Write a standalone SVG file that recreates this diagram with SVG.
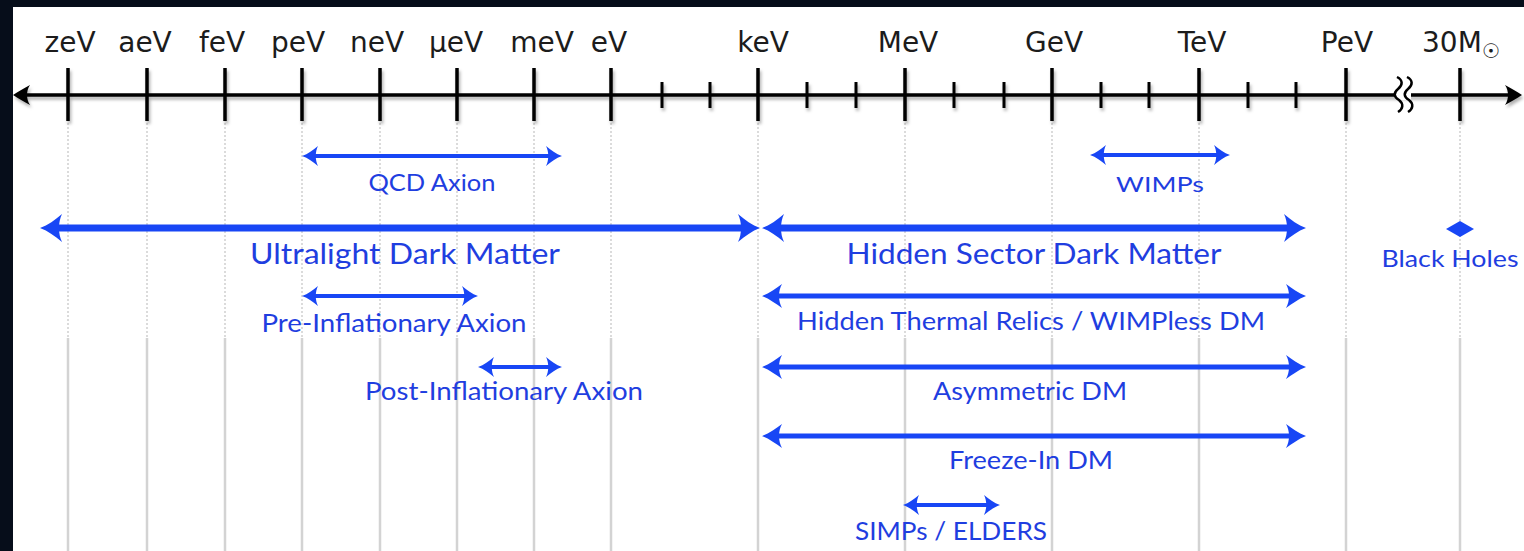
<svg xmlns="http://www.w3.org/2000/svg" width="1524" height="551" viewBox="0 0 1524 551">
<style>
.ax{font-family:"DejaVu Sans","Liberation Sans",sans-serif;font-size:28px;fill:#1c1c1c;text-anchor:middle}
.lb{font-family:Lato,"Liberation Sans",sans-serif;fill:#1f3ee0;text-anchor:middle}
.tk{stroke:#000;stroke-width:3.5}
.mt{stroke:#000;stroke-width:3}
.gd{stroke:#c4c4c4;stroke-width:1.2;stroke-dasharray:2 2}
.gs{stroke:#d3d3d3;stroke-width:2.5}
.big{stroke:#1846f5;stroke-width:7;fill:none;marker-start:url(#hb);marker-end:url(#hb)}
.med{stroke:#1846f5;stroke-width:5;fill:none;marker-start:url(#hm);marker-end:url(#hm)}
.sml{stroke:#1846f5;stroke-width:4;fill:none;marker-start:url(#hs);marker-end:url(#hs)}
</style>
<defs>
<marker id="hb" markerUnits="userSpaceOnUse" orient="auto-start-reverse" markerWidth="40" markerHeight="40" refX="0" refY="0" viewBox="-20 -20 40 40" overflow="visible">
<path d="M12,0 C4,-3 -3,-8 -10,-14 C-6,-6 -6,6 -10,14 C-3,8 4,3 12,0 Z" fill="#1846f5"/>
</marker>
<marker id="hm" markerUnits="userSpaceOnUse" orient="auto-start-reverse" markerWidth="40" markerHeight="40" refX="0" refY="0" viewBox="-20 -20 40 40" overflow="visible">
<path d="M11,0 C3,-3 -3,-8 -9,-12 C-5,-5 -5,5 -9,12 C-3,8 3,3 11,0 Z" fill="#1846f5"/>
</marker>
<marker id="hs" markerUnits="userSpaceOnUse" orient="auto-start-reverse" markerWidth="40" markerHeight="40" refX="0" refY="0" viewBox="-20 -20 40 40" overflow="visible">
<path d="M9,0 C3,-2 -2,-6 -7,-10 C-4,-4 -4,4 -7,10 C-2,6 3,2 9,0 Z" fill="#1846f5"/>
</marker>
<filter id="sh" x="-5%" y="-50%" width="110%" height="200%">
<feDropShadow dx="1.5" dy="3" stdDeviation="1.5" flood-color="#000" flood-opacity="0.3"/>
</filter>
<path id="sq" d="M0,0 C6,3 6,8 1,12 C-4,16 -3,20 2,23 C7,27 6,32 1,35" fill="none" stroke="#000" stroke-width="2.5"/>
</defs>
<rect x="0" y="0" width="1524" height="551" fill="#ffffff"/>
<rect x="0" y="0" width="1524" height="7" fill="#060d1a"/>
<rect x="0" y="0" width="13" height="551" fill="#060d1a"/>

<g id="grid">
<g class="gd">
<line x1="68" y1="123" x2="68" y2="338"/><line x1="147" y1="123" x2="147" y2="338"/><line x1="225" y1="123" x2="225" y2="338"/><line x1="302" y1="123" x2="302" y2="338"/><line x1="380" y1="123" x2="380" y2="338"/><line x1="457" y1="123" x2="457" y2="338"/><line x1="534" y1="123" x2="534" y2="338"/><line x1="611" y1="123" x2="611" y2="338"/><line x1="758" y1="123" x2="758" y2="338"/><line x1="905" y1="123" x2="905" y2="338"/><line x1="1052" y1="123" x2="1052" y2="338"/><line x1="1199" y1="123" x2="1199" y2="338"/><line x1="1346" y1="123" x2="1346" y2="338"/><line x1="1460" y1="123" x2="1460" y2="338"/>
</g>
<g class="gs">
<line x1="68" y1="338" x2="68" y2="551"/><line x1="147" y1="338" x2="147" y2="551"/><line x1="225" y1="338" x2="225" y2="551"/><line x1="302" y1="338" x2="302" y2="551"/><line x1="380" y1="338" x2="380" y2="551"/><line x1="457" y1="338" x2="457" y2="551"/><line x1="534" y1="338" x2="534" y2="551"/><line x1="611" y1="338" x2="611" y2="551"/><line x1="758" y1="338" x2="758" y2="551"/><line x1="905" y1="338" x2="905" y2="551"/><line x1="1052" y1="338" x2="1052" y2="551"/><line x1="1199" y1="338" x2="1199" y2="551"/><line x1="1346" y1="338" x2="1346" y2="551"/><line x1="1460" y1="338" x2="1460" y2="551"/>
</g>
</g>

<g id="axis">
<g filter="url(#sh)">
<line x1="24" y1="95" x2="1512" y2="95" stroke="#000" stroke-width="3.5"/>
<path d="M13,95 C18,92 24,88 30,85 C26,91 26,99 30,105 C24,102 18,98 13,95 Z" fill="#000"/>
<path d="M1522,95 C1517,92 1511,88 1505,85 C1509,91 1509,99 1505,105 C1511,102 1517,98 1522,95 Z" fill="#000"/>
<g class="tk">
<line x1="68" y1="68" x2="68" y2="121"/><line x1="147" y1="68" x2="147" y2="121"/><line x1="225" y1="68" x2="225" y2="121"/><line x1="302" y1="68" x2="302" y2="121"/><line x1="380" y1="68" x2="380" y2="121"/><line x1="457" y1="68" x2="457" y2="121"/><line x1="534" y1="68" x2="534" y2="121"/><line x1="611" y1="68" x2="611" y2="121"/><line x1="758" y1="68" x2="758" y2="121"/><line x1="905" y1="68" x2="905" y2="121"/><line x1="1052" y1="68" x2="1052" y2="121"/><line x1="1199" y1="68" x2="1199" y2="121"/><line x1="1346" y1="68" x2="1346" y2="121"/><line x1="1460" y1="68" x2="1460" y2="121"/>
</g>
<g class="mt">
<line x1="662" y1="82" x2="662" y2="108"/><line x1="710" y1="82" x2="710" y2="108"/><line x1="807" y1="82" x2="807" y2="108"/><line x1="856" y1="82" x2="856" y2="108"/><line x1="954" y1="82" x2="954" y2="108"/><line x1="1004" y1="82" x2="1004" y2="108"/><line x1="1101" y1="82" x2="1101" y2="108"/><line x1="1149" y1="82" x2="1149" y2="108"/><line x1="1248" y1="82" x2="1248" y2="108"/><line x1="1296" y1="82" x2="1296" y2="108"/>
</g>
</g>
<rect x="1396" y="90" width="15" height="10" fill="#fff"/>
<use href="#sq" x="1397" y="77"/>
<use href="#sq" x="1407" y="77"/>
<text class="ax" x="70" y="52">zeV</text>
<text class="ax" x="145" y="52">aeV</text>
<text class="ax" x="222" y="52">feV</text>
<text class="ax" x="298" y="52">peV</text>
<text class="ax" x="377" y="52">neV</text>
<text class="ax" x="456" y="52">μeV</text>
<text class="ax" x="542" y="52">meV</text>
<text class="ax" x="609" y="52">eV</text>
<text class="ax" x="763" y="52">keV</text>
<text class="ax" x="908" y="52">MeV</text>
<text class="ax" x="1054" y="52">GeV</text>
<text class="ax" x="1202" y="52">TeV</text>
<text class="ax" x="1347" y="52">PeV</text>
<text class="ax" x="1422" y="52" style="text-anchor:start">30M<tspan font-size="20" dy="6">☉</tspan></text>
</g>

<g id="connectors">
<line class="sml" x1="311" y1="156" x2="553" y2="156"/>
<line class="sml" x1="1099" y1="155" x2="1221" y2="155"/>
<line class="big" x1="52" y1="228" x2="748" y2="228"/>
<line class="big" x1="774" y1="228" x2="1294" y2="228"/>
<line class="sml" x1="311" y1="296" x2="469" y2="296"/>
<line class="med" x1="773" y1="296" x2="1295" y2="296"/>
<line class="sml" x1="487" y1="367" x2="553" y2="367"/>
<line class="med" x1="773" y1="367" x2="1295" y2="367"/>
<line class="med" x1="773" y1="436" x2="1295" y2="436"/>
<line class="sml" x1="912" y1="505" x2="991" y2="505"/>
</g>

<g id="qcd-axion"><text class="lb" x="432" y="191" font-size="23" textLength="127" lengthAdjust="spacingAndGlyphs">QCD Axion</text></g>
<g id="wimps"><text class="lb" x="1160" y="192" font-size="22" textLength="88" lengthAdjust="spacingAndGlyphs">WIMPs</text></g>
<g id="ultralight"><text class="lb" x="405" y="264" font-size="29" textLength="310" lengthAdjust="spacingAndGlyphs">Ultralight Dark Matter</text></g>
<g id="hidden-sector"><text class="lb" x="1034" y="264" font-size="29" textLength="375" lengthAdjust="spacingAndGlyphs">Hidden Sector Dark Matter</text></g>
<g id="black-holes">
<path d="M1446,229 L1460,221 L1474,229 L1460,237 Z" fill="#1846f5"/>
<text class="lb" x="1450" y="267" font-size="24" textLength="137" lengthAdjust="spacingAndGlyphs">Black Holes</text>
</g>
<g id="pre-inflationary"><text class="lb" x="394" y="332" font-size="25" textLength="265" lengthAdjust="spacingAndGlyphs">Pre-Inflationary Axion</text></g>
<g id="hidden-thermal"><text class="lb" x="1031" y="330" font-size="25" textLength="468" lengthAdjust="spacingAndGlyphs">Hidden Thermal Relics / WIMPless DM</text></g>
<g id="post-inflationary"><text class="lb" x="504" y="400" font-size="25" textLength="278" lengthAdjust="spacingAndGlyphs">Post-Inflationary Axion</text></g>
<g id="asymmetric"><text class="lb" x="1030" y="400" font-size="25" textLength="194" lengthAdjust="spacingAndGlyphs">Asymmetric DM</text></g>
<g id="freeze-in"><text class="lb" x="1031" y="469" font-size="25" textLength="164" lengthAdjust="spacingAndGlyphs">Freeze-In DM</text></g>
<g id="simps"><text class="lb" x="951" y="540" font-size="25" textLength="192" lengthAdjust="spacingAndGlyphs">SIMPs / ELDERS</text></g>
</svg>
